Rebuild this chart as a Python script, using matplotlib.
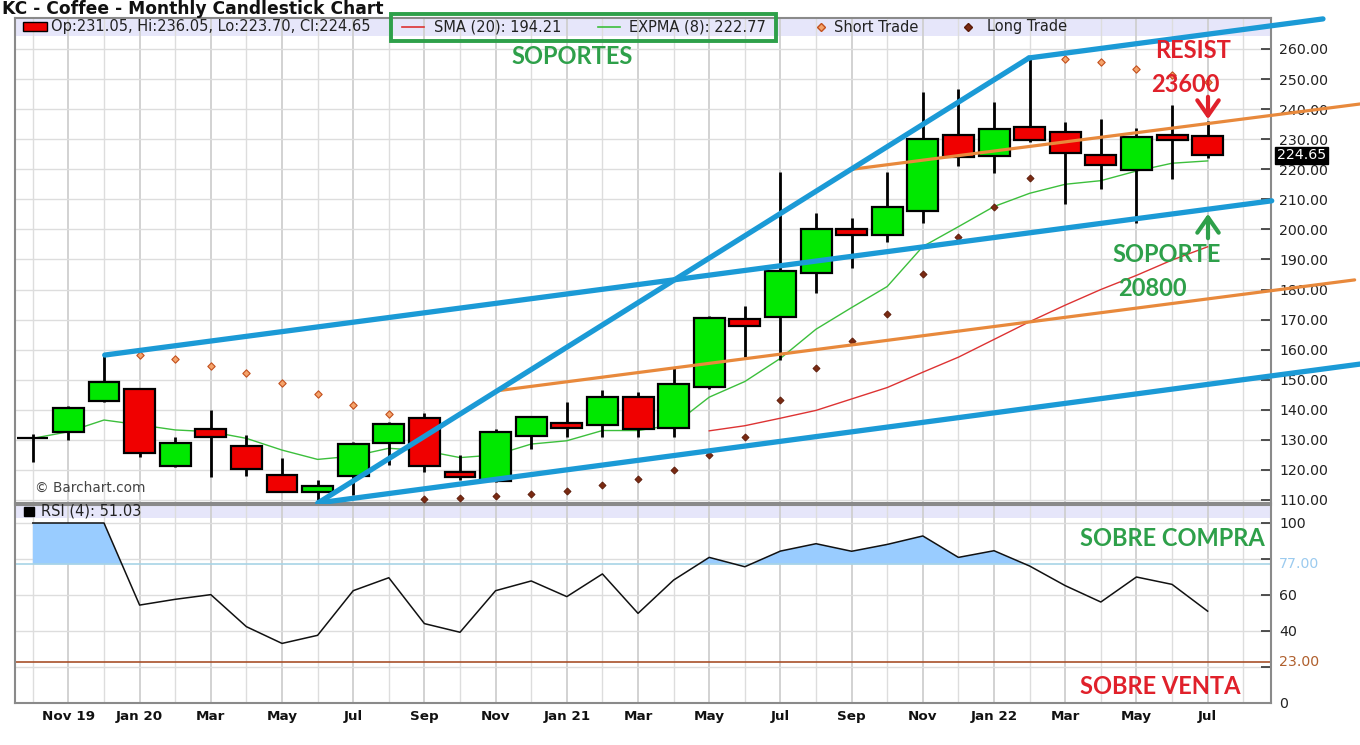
import matplotlib
matplotlib.use('Agg')
import matplotlib.pyplot as plt
import matplotlib.transforms as mtransforms
from matplotlib.patches import Rectangle
from matplotlib.lines import Line2D
import numpy as np

# ---------------- data ----------------
month_labels = ['Oct 19', 'Nov 19', 'Dec 19', 'Jan 20', 'Feb', 'Mar', 'Apr', 'May', 'Jun', 'Jul',
                'Aug', 'Sep', 'Oct', 'Nov', 'Dec', 'Jan 21', 'Feb', 'Mar', 'Apr', 'May', 'Jun',
                'Jul', 'Aug', 'Sep', 'Oct', 'Nov', 'Dec', 'Jan 22', 'Feb', 'Mar', 'Apr', 'May',
                'Jun', 'Jul']
tick_idx = list(range(1, 34, 2))

open_ = [130.6, 132.5, 142.8, 146.8, 121.2, 133.5, 127.9, 118.2, 112.6, 118.0,
         128.9, 137.2, 119.4, 116.3, 131.3, 135.7, 134.8, 144.4, 133.9, 147.7,
         170.1, 170.8, 185.4, 200.0, 198.1, 206.0, 231.5, 224.3, 234.0, 232.3,
         224.6, 219.8, 231.5, 231.05]
high = [132.0, 141.3, 158.3, 147.0, 131.0, 140.0, 131.5, 124.1, 116.6, 129.4,
        136.1, 138.8, 125.0, 133.5, 137.8, 142.6, 146.6, 145.8, 153.8, 171.2,
        174.6, 219.0, 205.6, 203.7, 219.0, 245.6, 246.7, 242.4, 257.0, 235.7,
        236.7, 233.6, 241.4, 236.05]
low = [122.8, 129.8, 142.5, 124.4, 120.9, 117.6, 118.1, 112.6, 110.0, 111.5,
       121.7, 119.4, 116.6, 116.0, 126.9, 130.9, 131.1, 130.9, 130.9, 146.8,
       157.7, 156.6, 179.0, 187.1, 195.9, 202.2, 221.1, 218.9, 229.2, 208.6,
       213.4, 202.0, 216.7, 223.70]
close = [130.6, 140.5, 149.4, 125.5, 128.9, 130.9, 120.2, 112.8, 114.7, 128.5,
         135.2, 121.2, 117.6, 132.5, 137.5, 133.9, 144.1, 133.5, 148.5, 170.4,
         167.9, 186.2, 200.0, 198.1, 207.4, 230.0, 224.0, 233.3, 229.7, 225.3,
         221.3, 230.8, 229.7, 224.65]

expma8 = [130.5, 132.7, 136.6, 135.0, 133.3, 132.7, 130.5, 126.6, 123.5, 124.6,
          127.2, 126.4, 124.1, 125.0, 128.6, 129.7, 133.1, 133.1, 135.0, 144.2,
          149.4, 157.1, 166.8, 174.0, 181.0, 194.3, 200.9, 207.6, 212.0, 215.0,
          216.2, 219.4, 222.0, 222.77]
sma_start = 19
sma20 = [133.0, 134.7, 137.2, 139.8, 143.6, 147.4, 152.5, 157.5, 163.4, 169.3,
         174.8, 180.0, 184.7, 189.8, 194.21]

short_idx = [3, 4, 5, 6, 7, 8, 9, 10, 29, 30, 31, 32, 33]
short_val = [158.2, 156.8, 154.6, 152.2, 148.8, 145.2, 141.5, 138.5,
             256.6, 255.6, 253.2, 251.4, 249.0]
long_idx = list(range(11, 29))
long_val = [110.2, 110.6, 111.2, 112.0, 113.0, 115.0, 116.9, 119.9, 124.9, 131.0,
            143.3, 153.8, 162.9, 171.8, 185.1, 197.4, 207.4, 217.0]

rsi4 = [100, 100, 100, 54.4, 57.6, 60.2, 42.4, 33.1, 37.6, 62.4,
        69.6, 44.1, 39.3, 62.4, 67.8, 59.1, 71.7, 49.8, 68.3, 80.9,
        75.7, 84.4, 88.5, 84.3, 88.1, 92.8, 80.9, 84.6, 76.1, 65.2,
        56.1, 70.0, 65.9, 51.03]
rsi_over = 77.0
rsi_under = 23.0

# hand-drawn trend lines (month index, price)
blue_lines = [((2.02, 158.2), (34.8, 209.5)),
              ((8.01, 109.0), (27.98, 257.0)),
              ((27.98, 257.0), (36.24, 270.0)),
              ((8.01, 109.0), (37.28, 155.2))]
orange_lines = [((13.03, 146.3), (37.13, 183.2)),
                ((22.95, 219.9), (37.28, 241.7))]

# ---------------- style ----------------
W, H = 1360, 745
GREEN_C = '#00e800'
RED_C = '#f00000'
BLUE_T = '#1b9ad6'
ORANGE_T = '#e8893c'
ANN_GREEN = '#2ea04a'
ANN_RED = '#e0212b'
BAND = '#e6e6fa'
GRID = '#dddddd'
GRID_D = '#cfcfcf'
SPINE = '#8a8a8a'
FONT = 'DejaVu Sans'
ANN_FONT = ['Lato', 'DejaVu Sans']
LEG_FS = 10.5

plt.rcParams['font.family'] = FONT

fig = plt.figure(figsize=(W / 100, H / 100), dpi=100, facecolor='white')
pix = mtransforms.Affine2D().scale(1 / W, -1 / H).translate(0, 1) + fig.transFigure

L, R = 15, 1271
ax = fig.add_axes([L / W, 1 - 503 / H, (R - L) / W, (503 - 18) / H])
ax2 = fig.add_axes([L / W, 1 - 703 / H, (R - L) / W, (703 - 505) / H], sharex=ax)

n = len(close)
x = np.arange(n)
xlim = (-0.5, 34.78)

# ---------- main price panel ----------
ax.set_xlim(*xlim)
ax.set_ylim(109.0, 270.3)
ax.axhspan(264.3, 270.3, color=BAND, zorder=0.1, lw=0)
for i in range(0, 35):
    col = GRID_D if i in tick_idx else GRID
    ax.axvline(i, color=col, lw=1.3 if i in tick_idx else 1.0, zorder=0.3)
for p in range(110, 270, 10):
    ax.axhline(p, color=GRID, lw=1.0, zorder=0.3)

ax.plot(x, expma8, color='#3cbf3c', lw=1.0, zorder=2)
ax.plot(np.arange(sma_start, sma_start + len(sma20)), sma20, color='#dd3333', lw=1.0, zorder=2)

o = np.array(open_); c = np.array(close); h = np.array(high); l = np.array(low)
ax.vlines(x, l, h, color='black', lw=2.0, zorder=3)
colors = [GREEN_C if cc >= oo else RED_C for oo, cc in zip(o, c)]
ax.bar(x, np.abs(c - o), bottom=np.minimum(o, c), width=0.87, color=colors,
       edgecolor='black', linewidth=1.6, zorder=4)

ax.scatter(short_idx, short_val, marker='D', s=14, facecolor='#f5a36a',
           edgecolor='#c2501e', linewidth=0.8, zorder=5)
ax.scatter(long_idx, long_val, marker='D', s=13, facecolor='#7a2a12',
           edgecolor='#5a1a08', linewidth=0.6, zorder=5)

for (x0, y0), (x1, y1) in blue_lines:
    ax.plot([x0, x1], [y0, y1], color=BLUE_T, lw=3.8, solid_capstyle='round',
            clip_on=False, zorder=7)
for (x0, y0), (x1, y1) in orange_lines:
    ax.plot([x0, x1], [y0, y1], color=ORANGE_T, lw=2.3, solid_capstyle='round',
            clip_on=False, zorder=6)

ax.yaxis.tick_right()
ax.set_yticks(range(110, 261, 10))
ax.set_yticklabels([f'{v:.2f}' for v in range(110, 261, 10)])
ax.tick_params(axis='y', direction='in', length=7, width=1.2, pad=6,
               labelsize=10.2, colors='#333333', labelcolor='#222222')
ax.tick_params(axis='x', length=0, labelbottom=False)
for s in ax.spines.values():
    s.set_color(SPINE); s.set_linewidth(1.5)

# last price label
trans_r = mtransforms.blended_transform_factory(ax.transAxes, ax.transData)
ax.text(1.0 + 6 / (R - L), c[-1], f'{c[-1]:.2f}', transform=trans_r, ha='left', va='center',
        fontsize=10.2, color='white', zorder=10,
        bbox=dict(boxstyle='square,pad=0.12', fc='black', ec='black'))

ax.text(35, 488, '\u00a9 Barchart.com', transform=pix, fontsize=9.8, color='#444444',
        ha='left', va='center', zorder=8)

# ---------- RSI panel ----------
ax2.set_ylim(0, 110)
ax2.axhspan(102.8, 110, color=BAND, zorder=0.1, lw=0)
for i in range(0, 35):
    col = GRID_D if i in tick_idx else GRID
    ax2.axvline(i, color=col, lw=1.3 if i in tick_idx else 1.0, zorder=0.3)
for p in range(20, 101, 20):
    ax2.axhline(p, color=GRID, lw=1.0, zorder=0.3)
rs = np.array(rsi4, dtype=float)
ax2.fill_between(x, rs, rsi_over, where=rs >= rsi_over, interpolate=True,
                 color='#99ccff', lw=0, zorder=1)
ax2.axhline(rsi_over, color='#a8d4e6', lw=1.2, zorder=1.5)
ax2.axhline(rsi_under, color='#a8502a', lw=1.2, zorder=1.5)
ax2.plot(x, rs, color='#111111', lw=1.1, zorder=3)

ax2.yaxis.tick_right()
ax2.set_yticks([0, 20, 40, 60, 80, 100])
ax2.set_yticklabels(['0', '', '40', '60', '', '100'])
ax2.tick_params(axis='y', direction='in', length=7, width=1.2, pad=6,
                labelsize=10.2, colors='#333333', labelcolor='#222222')
tr2 = mtransforms.blended_transform_factory(ax2.transAxes, ax2.transData)
ax2.text(1.0 + 8 / (R - L), rsi_over, f'{rsi_over:.2f}', transform=tr2,
         ha='left', va='center', fontsize=10.2, color='#9ccbef')
ax2.text(1.0 + 8 / (R - L), rsi_under, f'{rsi_under:.2f}', transform=tr2,
         ha='left', va='center', fontsize=10.2, color='#b0602e')
ax2.set_xticks(tick_idx)
ax2.set_xticklabels([month_labels[i] for i in tick_idx], fontweight='bold', fontsize=9.7,
                    color='#111111')
ax2.tick_params(axis='x', length=0, pad=5)
for s in ax2.spines.values():
    s.set_color(SPINE); s.set_linewidth(1.5)

# RSI legend
fig.add_artist(Rectangle((24, 507), 10, 9, transform=pix, fc='black', ec='black'))
fig.text(41, 511.5, f'RSI (4): {rsi4[-1]:.2f}', transform=pix, fontsize=LEG_FS,
         color='#222222', ha='left', va='center')

# ---------- title & legend ----------
fig.text(2, 9.5, 'KC - Coffee - Monthly Candlestick Chart', transform=pix, fontsize=12.3,
         fontweight='bold', color='#111111', ha='left', va='center')
fig.add_artist(Rectangle((23, 22), 24, 9, transform=pix, fc=RED_C, ec='black', lw=1))
fig.text(51, 27, f'Op:{open_[-1]:.2f}, Hi:{high[-1]:.2f}, Lo:{low[-1]:.2f}, Cl:{close[-1]:.2f}',
         transform=pix, fontsize=LEG_FS, color='#222222', ha='left', va='center')
fig.add_artist(Line2D([402, 424], [27, 27], transform=pix, color='#dd3333', lw=1.2))
fig.text(434, 27, f'SMA (20): {sma20[-1]:.2f}', transform=pix, fontsize=LEG_FS,
         color='#222222', ha='left', va='center')
fig.add_artist(Line2D([598, 620], [27, 27], transform=pix, color='#3cbf3c', lw=1.2))
fig.text(629, 27, f'EXPMA (8): {expma8[-1]:.2f}', transform=pix, fontsize=LEG_FS,
         color='#222222', ha='left', va='center')
fig.add_artist(Line2D([821], [27], transform=pix, marker='D', markersize=4,
                      markerfacecolor='#f5a36a', markeredgecolor='#c2501e', lw=0))
fig.text(834, 27, 'Short Trade', transform=pix, fontsize=LEG_FS, color='#222222',
         ha='left', va='center')
fig.add_artist(Line2D([968], [27], transform=pix, marker='D', markersize=3.8,
                      markerfacecolor='#7a2a12', markeredgecolor='#5a1a08', lw=0))
fig.text(987, 27, 'Long Trade', transform=pix, fontsize=LEG_FS, color='#222222',
         ha='left', va='center')
fig.add_artist(Rectangle((391, 14), 385, 27, transform=pix, fill=False,
                         ec=ANN_GREEN, lw=2.8))

# ---------- annotations ----------
def ann(xp, yp, s, col, size=17):
    fig.text(xp, yp, s, transform=pix, fontsize=size, fontweight='bold', color=col,
             family=ANN_FONT, ha='center', va='center')

ann(572, 57, 'SOPORTES', ANN_GREEN)
ann(1193, 50, 'RESIST', ANN_RED)
ann(1185, 84, '23600', ANN_RED)
ann(1167, 255, 'SOPORTE', ANN_GREEN)
ann(1152, 288, '20800', ANN_GREEN)
ann(1172, 538, 'SOBRE COMPRA', ANN_GREEN)
ann(1160, 686, 'SOBRE VENTA', ANN_RED)

ax.annotate('', xy=(1208, 122), xytext=(1208, 94), xycoords=pix, textcoords=pix,
            arrowprops=dict(arrowstyle='->,head_length=0.5,head_width=0.35', color=ANN_RED,
                            lw=3, mutation_scale=22), annotation_clip=False)
ax.annotate('', xy=(1208, 211), xytext=(1208, 241), xycoords=pix, textcoords=pix,
            arrowprops=dict(arrowstyle='->,head_length=0.5,head_width=0.35', color=ANN_GREEN,
                            lw=3, mutation_scale=22), annotation_clip=False)

fig.savefig('out.png', dpi=100, facecolor='white')
